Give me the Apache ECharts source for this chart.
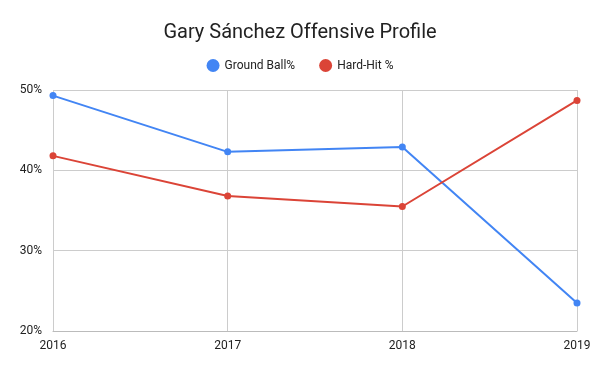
<!DOCTYPE html>
<html><head><meta charset="utf-8">
<script src="https://cdn.jsdelivr.net/npm/echarts@6/dist/echarts.min.js"></script>
<style>html,body{margin:0;padding:0;background:#fff}#c{width:600px;height:371px}</style>
</head><body><div id="c"></div>
<script>
const years = ['2016','2017','2018','2019'];
const groundBall = [49.3, 42.3, 42.9, 23.5];
const hardHit = [41.8, 36.8, 35.5, 48.7];
const yTicks = [20, 30, 40, 50];

const chart = echarts.init(document.getElementById('c'));
chart.setOption({
  animation: false,
  backgroundColor: '#fff',
  textStyle: {fontFamily: 'Roboto'},
  title: {text: 'Gary Sánchez Offensive Profile', left: 'center', top: 18,
    textStyle: {fontFamily: 'Roboto', fontSize: 20, fontWeight: 'normal', color: '#222'}},
  legend: {top: 54, left: 'center', itemWidth: 13, itemHeight: 13, itemGap: 24,
    icon: 'circle', textStyle: {fontSize: 12, color: '#222'},
    data: ['Ground Ball%', 'Hard-Hit %']},
  grid: {left: 53, right: 23, top: 90, bottom: 40},
  xAxis: {type: 'category', data: years, boundaryGap: false,
    axisLine: {show: true, lineStyle: {color: '#bbb'}}, axisTick: {show: false},
    axisLabel: {color: '#222', fontSize: 12, margin: 9},
    splitLine: {show: true, lineStyle: {color: '#ccc'}}},
  yAxis: {type: 'value', min: yTicks[0], max: yTicks[yTicks.length-1], interval: 10,
    axisLine: {show: false}, axisTick: {show: false},
    axisLabel: {color: '#222', fontSize: 12, margin: 11, formatter: v => v + '%'},
    splitLine: {lineStyle: {color: '#ccc'}}},
  series: [
    {name: 'Ground Ball%', type: 'line', data: groundBall, color: '#4285f4',
      symbol: 'circle', symbolSize: 7, lineStyle: {width: 2}},
    {name: 'Hard-Hit %', type: 'line', data: hardHit, color: '#db4437',
      symbol: 'circle', symbolSize: 7, lineStyle: {width: 2}}
  ]
});
</script></body></html>
